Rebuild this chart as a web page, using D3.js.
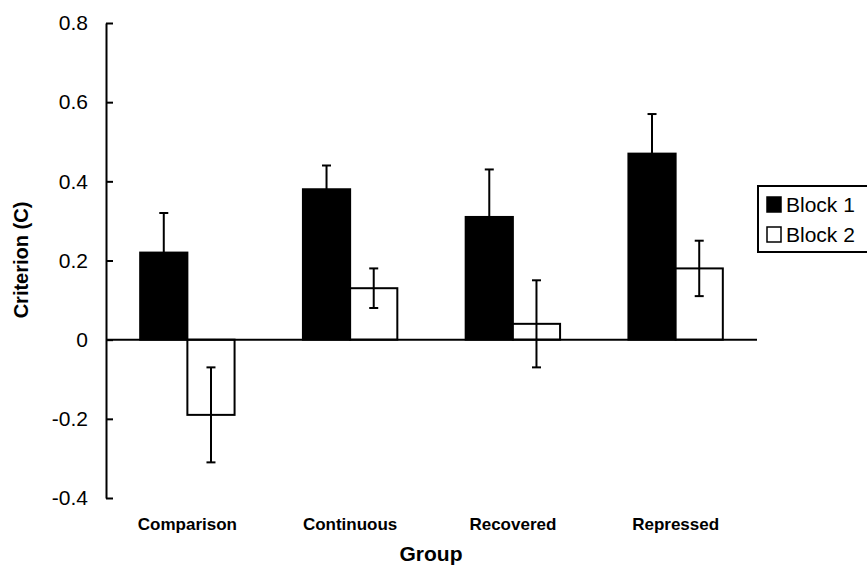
<!DOCTYPE html>
<html>
<head>
<meta charset="utf-8">
<script src="https://cdn.jsdelivr.net/npm/d3@7"></script>
<style>
  html, body { margin: 0; padding: 0; background: #fff; }
  svg { display: block; font-family: Arial, "Liberation Sans", Helvetica, sans-serif; }
</style>
</head>
<body>
<svg id="chart" width="867" height="569"></svg>
<script>
const groups = ["Comparison", "Continuous", "Recovered", "Repressed"];
const seriesNames = ["Block 1", "Block 2"];
const block1 = [0.22, 0.38, 0.31, 0.47];
const block1Err = [0.10, 0.06, 0.12, 0.10];
const block2 = [-0.19, 0.13, 0.04, 0.18];
const block2Err = [0.12, 0.05, 0.11, 0.07];
const yTicks = [-0.4, -0.2, 0, 0.2, 0.4, 0.6, 0.8];
const yTickLabels = ["-0.4", "-0.2", "0", "0.2", "0.4", "0.6", "0.8"];

const svg = d3.select("#chart");
const axisX = 106;

const y = d3.scaleLinear().domain([-0.4, 0.8]).range([498, 23]);
const x = d3.scaleBand().domain(groups).range([106, 757]).paddingInner(0.42).paddingOuter(0.21);
const xs = d3.scaleBand().domain(seriesNames).range([0, x.bandwidth()]);

const fills = ["#000", "#fff"];
const data = groups.map((g, i) => [
  { g, s: seriesNames[0], v: block1[i], e: block1Err[i], fill: fills[0] },
  { g, s: seriesNames[1], v: block2[i], e: block2Err[i], fill: fills[1] }
]).flat();

// bars
svg.append("g").selectAll("rect").data(data).join("rect")
  .attr("x", d => x(d.g) + xs(d.s))
  .attr("y", d => y(Math.max(0, d.v)))
  .attr("width", xs.bandwidth())
  .attr("height", d => Math.abs(y(d.v) - y(0)))
  .attr("fill", d => d.fill)
  .attr("stroke", "#000")
  .attr("stroke-width", 2);

// error bars
const eg = svg.append("g").attr("stroke", "#000").attr("stroke-width", 2);
data.forEach(d => {
  const cx = x(d.g) + xs(d.s) + xs.bandwidth() / 2;
  eg.append("line").attr("x1", cx).attr("x2", cx).attr("y1", y(d.v + d.e)).attr("y2", y(d.v - d.e));
  eg.append("line").attr("x1", cx - 4.5).attr("x2", cx + 4.5).attr("y1", y(d.v + d.e)).attr("y2", y(d.v + d.e));
  eg.append("line").attr("x1", cx - 4.5).attr("x2", cx + 4.5).attr("y1", y(d.v - d.e)).attr("y2", y(d.v - d.e));
});

// zero line
svg.append("line")
  .attr("x1", axisX).attr("x2", 757)
  .attr("y1", y(0)).attr("y2", y(0))
  .attr("stroke", "#000").attr("stroke-width", 2);

// y axis
const yAxis = d3.axisLeft(y)
  .tickValues(yTicks)
  .tickFormat((d, i) => yTickLabels[i])
  .tickSizeInner(-7)
  .tickSizeOuter(0)
  .tickPadding(18);
const ya = svg.append("g").attr("transform", `translate(${axisX},0)`).call(yAxis);
ya.select(".domain").attr("stroke", "#000").attr("stroke-width", 2);
ya.selectAll(".tick line").attr("stroke", "#000").attr("stroke-width", 2);
ya.selectAll(".tick text").attr("font-size", 21).attr("fill", "#000")
  .attr("font-family", "Arial, 'Liberation Sans', sans-serif");

// x category labels
svg.append("g").selectAll("text").data(groups).join("text")
  .attr("x", d => x(d) + x.bandwidth() / 2)
  .attr("y", 530)
  .attr("text-anchor", "middle")
  .attr("font-size", 17)
  .attr("font-weight", "bold")
  .attr("fill", "#000")
  .text(d => d);

// axis titles
svg.append("text")
  .attr("x", 431).attr("y", 561)
  .attr("text-anchor", "middle")
  .attr("font-size", 21).attr("font-weight", "bold")
  .text("Group");
svg.append("text")
  .attr("transform", "translate(28,260) rotate(-90)")
  .attr("text-anchor", "middle")
  .attr("font-size", 20).attr("font-weight", "bold")
  .text("Criterion (C)");

// legend
const lg = svg.append("g");
lg.append("rect").attr("x", 758).attr("y", 186).attr("width", 120).attr("height", 66)
  .attr("fill", "#fff").attr("stroke", "#000").attr("stroke-width", 2);
seriesNames.forEach((s, i) => {
  const yy = 197 + i * 30;
  lg.append("rect").attr("x", 767).attr("y", yy).attr("width", 14).attr("height", 15)
    .attr("fill", fills[i]).attr("stroke", "#000").attr("stroke-width", 1.5);
  lg.append("text").attr("x", 786).attr("y", yy + 15)
    .attr("font-size", 21).attr("fill", "#000").text(s);
});
</script>
</body>
</html>
